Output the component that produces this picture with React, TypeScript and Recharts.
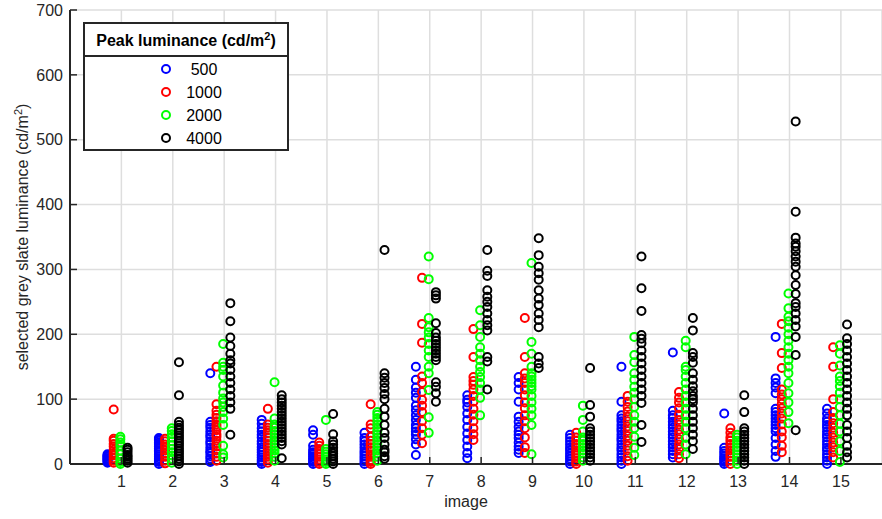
import React from 'react';
import { ScatterChart, Scatter, XAxis, YAxis, CartesianGrid } from 'recharts';

const FONT = '"Liberation Sans", Arial, Helvetica, sans-serif';
const AXIS_COLOR = '#262626';

const images = [1, 2, 3, 4, 5, 6, 7, 8, 9, 10, 11, 12, 13, 14, 15];
const yTicks = [0, 100, 200, 300, 400, 500, 600, 700];

const seriesNames = ['500', '1000', '2000', '4000'];
const seriesColors = ['#0000ff', '#ff0000', '#00ff00', '#000000'];
const seriesOffsets = [-0.27, -0.15, -0.02, 0.12];

const lum500: number[][] = [
  [2, 4, 5, 7, 8, 9, 11, 12, 13, 15],
  [0, 3, 6, 9, 12, 15, 19, 21, 24, 27, 31, 33, 36, 38, 40],
  [3, 8, 12, 17, 20, 25, 31, 35, 41, 45, 50, 56, 60, 65, 140],
  [0, 3, 6, 10, 14, 18, 22, 26, 31, 35, 41, 45, 50, 55, 62, 68],
  [0, 3, 6, 9, 12, 15, 18, 22, 28, 45, 52],
  [0, 4, 8, 12, 16, 20, 25, 30, 35, 40, 48],
  [14, 30, 38, 45, 50, 55, 60, 68, 75, 83, 90, 102, 110, 118, 130, 150],
  [9, 17, 27, 37, 47, 57, 68, 78, 88, 95, 99, 106],
  [17, 22, 27, 33, 40, 45, 50, 57, 65, 73, 96, 115, 125, 134],
  [0, 4, 8, 12, 16, 21, 25, 30, 35, 40, 45],
  [0, 5, 10, 15, 21, 25, 30, 36, 40, 45, 51, 55, 60, 66, 70, 75, 96, 150],
  [10, 15, 20, 26, 30, 35, 41, 45, 50, 56, 60, 65, 71, 75, 82, 172],
  [0, 3, 6, 9, 12, 16, 20, 25, 78],
  [11, 20, 30, 40, 50, 55, 60, 65, 70, 75, 80, 85, 109, 118, 125, 132, 196],
  [0, 5, 10, 15, 21, 25, 30, 35, 41, 45, 50, 56, 60, 65, 70, 78, 85],
];

const lum1000: number[][] = [
  [2, 5, 9, 13, 17, 22, 27, 31, 36, 39, 84],
  [1, 5, 11, 16, 21, 26, 30, 35, 39],
  [5, 11, 16, 21, 27, 31, 36, 42, 46, 52, 57, 61, 66, 71, 76, 82, 92, 150],
  [2, 7, 11, 16, 21, 26, 31, 36, 41, 47, 52, 56, 61, 85],
  [0, 3, 7, 11, 15, 19, 23, 28, 33],
  [0, 3, 6, 11, 15, 21, 26, 31, 36, 42, 55, 61, 92],
  [32, 45, 55, 66, 80, 90, 99, 111, 125, 135, 187, 216, 287],
  [37, 46, 55, 66, 76, 85, 96, 105, 115, 122, 128, 134, 165, 208],
  [17, 26, 41, 55, 66, 75, 86, 95, 106, 115, 125, 132, 140, 165, 225],
  [0, 4, 9, 13, 17, 21, 26, 31, 36, 41, 48],
  [5, 12, 21, 28, 36, 43, 51, 58, 66, 73, 81, 88, 96, 105],
  [9, 15, 23, 30, 38, 46, 53, 61, 68, 76, 86, 95, 102, 111],
  [0, 5, 11, 16, 21, 26, 31, 36, 41, 48, 55],
  [18, 28, 41, 50, 61, 70, 78, 86, 93, 100, 107, 115, 148, 171, 216],
  [10, 18, 26, 33, 41, 48, 56, 63, 71, 80, 100, 150, 180],
];

const lum2000: number[][] = [
  [0, 3, 8, 15, 21, 28, 33, 38, 42],
  [2, 8, 13, 18, 23, 29, 35, 41, 46, 51, 55],
  [10, 15, 28, 60, 70, 80, 88, 95, 101, 110, 121, 135, 145, 150, 156, 185],
  [5, 11, 16, 21, 26, 31, 36, 41, 46, 51, 56, 61, 70, 126],
  [0, 3, 7, 11, 15, 19, 23, 68],
  [5, 11, 16, 21, 26, 31, 36, 41, 46, 51, 56, 61, 66, 71, 76, 80],
  [48, 72, 114, 140, 150, 165, 175, 185, 195, 203, 211, 225, 285, 320],
  [75, 102, 115, 125, 134, 142, 150, 160, 170, 180, 196, 214, 237],
  [15, 60, 75, 85, 95, 105, 115, 120, 125, 130, 135, 140, 150, 170, 188, 310],
  [5, 10, 16, 21, 26, 31, 36, 41, 50, 68, 90],
  [14, 25, 42, 55, 65, 75, 88, 100, 110, 119, 130, 140, 157, 168, 196],
  [15, 30, 40, 55, 65, 75, 85, 95, 105, 115, 125, 135, 145, 150, 180, 190],
  [0, 5, 10, 15, 21, 26, 31, 36, 41, 45],
  [63, 80, 95, 109, 125, 140, 150, 160, 170, 180, 190, 200, 210, 220, 227, 240, 263],
  [3, 20, 35, 50, 62, 75, 88, 100, 110, 120, 128, 135, 152, 170, 183],
];

const lum4000: number[][] = [
  [2, 5, 8, 11, 14, 18, 22, 25],
  [0, 4, 8, 12, 16, 20, 24, 28, 32, 36, 40, 44, 48, 52, 56, 60, 65, 106, 157],
  [45, 85, 95, 105, 115, 125, 135, 145, 155, 160, 170, 182, 195, 220, 248],
  [9, 30, 35, 40, 45, 50, 55, 60, 65, 70, 75, 80, 85, 90, 95, 100, 106],
  [0, 4, 8, 12, 16, 20, 25, 30, 35, 46, 77],
  [8, 12, 18, 22, 30, 40, 48, 60, 73, 85, 100, 108, 117, 125, 133, 140, 330],
  [96, 109, 119, 126, 160, 165, 170, 175, 180, 185, 190, 195, 202, 217, 255, 260, 265],
  [115, 158, 165, 206, 214, 222, 232, 242, 250, 258, 268, 290, 298, 330],
  [148, 155, 165, 211, 222, 232, 245, 255, 268, 284, 294, 304, 322, 348],
  [5, 10, 15, 20, 25, 30, 35, 40, 45, 50, 55, 73, 91, 148],
  [34, 60, 94, 105, 115, 125, 135, 145, 155, 165, 175, 186, 193, 199, 236, 271, 320],
  [23, 35, 45, 55, 65, 75, 85, 95, 100, 105, 112, 120, 130, 140, 156, 165, 171, 206, 225],
  [0, 5, 10, 15, 20, 25, 30, 35, 40, 45, 50, 55, 80, 106],
  [52, 168, 196, 212, 222, 232, 242, 248, 262, 276, 291, 304, 312, 320, 328, 335, 340, 349, 389, 528],
  [10, 18, 28, 40, 50, 60, 75, 85, 95, 105, 115, 125, 135, 145, 155, 165, 175, 185, 194, 215],
];

const seriesValues = [lum500, lum1000, lum2000, lum4000];

const seriesData = seriesValues.map((perImage, s) =>
  perImage.flatMap((vals, i) => vals.map((v) => ({ x: images[i] + seriesOffsets[s], y: v })))
);

const YTick = (props: any) => {
  const { x, y, payload } = props;
  return (
    <g>
      <line x1={x + 7} x2={x + 14} y1={y} y2={y} stroke={AXIS_COLOR} strokeWidth={1.5} />
      <text x={x} y={y} dy="0.36em" textAnchor="end" fill={AXIS_COLOR} fontSize={16} fontFamily={FONT}>
        {payload.value}
      </text>
    </g>
  );
};

const XTick = (props: any) => {
  const { x, y, payload } = props;
  return (
    <g>
      <line x1={x} x2={x} y1={y - 12} y2={y - 19} stroke={AXIS_COLOR} strokeWidth={1.5} />
      <text x={x} y={y} dy="0.71em" textAnchor="middle" fill={AXIS_COLOR} fontSize={16} fontFamily={FONT}>
        {payload.value}
      </text>
    </g>
  );
};

const YLabel = (props: any) => {
  const vb = props.viewBox || { x: 0, y: 10, width: 70, height: 454 };
  const cy = vb.y + vb.height / 2;
  return (
    <text
      transform={`translate(28, ${cy}) rotate(-90)`}
      textAnchor="middle"
      fill={AXIS_COLOR}
      fontSize={16}
      fontFamily={FONT}
    >
      selected grey slate luminance (cd/m
      <tspan dy={-6} fontSize={11}>2</tspan>
      <tspan dy={6}>)</tspan>
    </text>
  );
};

const Legend = () => (
  <div
    style={{
      position: 'absolute',
      left: 83,
      top: 22,
      width: 206,
      height: 129,
      boxSizing: 'border-box',
      border: `2px solid ${AXIS_COLOR}`,
      background: '#ffffff',
      fontFamily: FONT,
      color: '#000',
    }}
  >
    <div
      style={{
        height: 31,
        lineHeight: '33px',
        borderBottom: `2px solid ${AXIS_COLOR}`,
        textAlign: 'center',
        fontWeight: 'bold',
        fontSize: 16,
        whiteSpace: 'nowrap',
      }}
    >
      Peak luminance (cd/m<sup style={{ fontSize: 11, lineHeight: 0, verticalAlign: 'super' }}>2</sup>)
    </div>
    <div style={{ paddingTop: 0.5 }}>
      {seriesNames.map((name, i) => (
        <div key={name} style={{ position: 'relative', height: 23 }}>
          <svg width={12} height={12} style={{ position: 'absolute', left: 75, top: 5.5 }}>
            <circle cx={6} cy={6} r={4} fill="none" stroke={seriesColors[i]} strokeWidth={2} />
          </svg>
          <span
            style={{
              position: 'absolute',
              left: 119,
              top: 0,
              lineHeight: '23px',
              fontSize: 16,
              transform: 'translateX(-50%)',
            }}
          >
            {name}
          </span>
        </div>
      ))}
    </div>
  </div>
);

export default function App() {
  return (
    <div style={{ position: 'absolute', left: 0, top: 0, width: 882, height: 519, background: '#fff' }}>
      <ScatterChart width={882} height={519} margin={{ top: 10, right: 0, bottom: 0, left: 0 }}>
        <CartesianGrid stroke="#dedede" strokeWidth={1.5} />
        <XAxis
          type="number"
          dataKey="x"
          domain={[0, 15.8]}
          ticks={images}
          allowDataOverflow
          interval={0}
          height={55}
          tickSize={0}
          tickMargin={12}
          tickLine={false}
          tick={<XTick />}
          axisLine={{ stroke: AXIS_COLOR, strokeWidth: 2 }}
          label={{ value: 'image', position: 'insideBottom', offset: 12, dx: -10, fill: AXIS_COLOR, fontSize: 16, fontFamily: FONT }}
        />
        <YAxis
          type="number"
          dataKey="y"
          domain={[0, 700]}
          ticks={yTicks}
          interval={0}
          width={70}
          tickSize={0}
          tickMargin={7}
          tickLine={false}
          tick={<YTick />}
          axisLine={{ stroke: AXIS_COLOR, strokeWidth: 2 }}
          label={<YLabel />}
        />
        {seriesNames.map((name, s) => (
          <Scatter
            key={name}
            name={name}
            data={seriesData[s]}
            isAnimationActive={false}
            shape={(p: any) => (
              <circle cx={p.cx} cy={p.cy} r={4} fill="none" stroke={seriesColors[s]} strokeWidth={2} />
            )}
          />
        ))}
      </ScatterChart>
      <Legend />
    </div>
  );
}
